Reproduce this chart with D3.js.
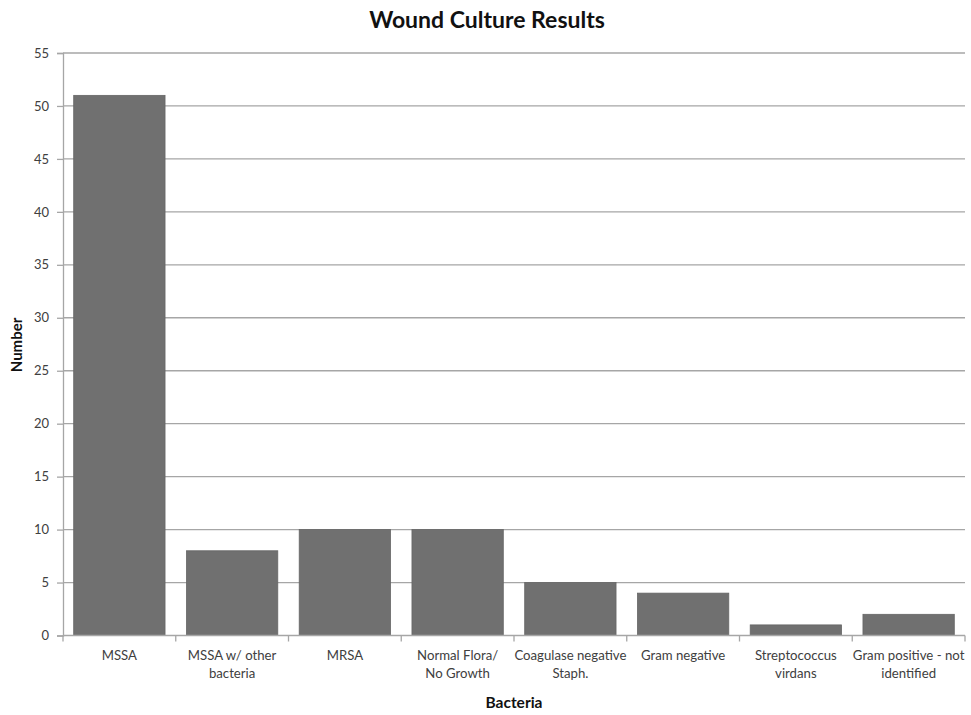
<!DOCTYPE html>
<html><head><meta charset="utf-8">
<script src="https://cdn.jsdelivr.net/npm/d3@7"></script>
<style>body{margin:0;background:#fff;} svg{display:block;font-family:Lato,"Open Sans",sans-serif;}</style>
</head><body>
<svg id="c" width="971" height="715"></svg>
<script>
const categories = [["MSSA"],["MSSA w/ other","bacteria"],["MRSA"],["Normal Flora/","No Growth"],["Coagulase negative","Staph."],["Gram negative"],["Streptococcus","virdans"],["Gram positive - not","identified"]];
const values = [51, 8, 10, 10, 5, 4, 1, 2];
const yTicks = [0,5,10,15,20,25,30,35,40,45,50,55];
const title = "Wound Culture Results";
const xTitle = "Bacteria";
const yTitle = "Number";

const svg = d3.select("#c");
const m = {l:63, r:6, t:53, b:79.5};
const W = 971, H = 715;
const x = d3.scaleBand().domain(d3.range(categories.length)).range([m.l, W-m.r]).paddingInner(0.19).paddingOuter(0.095);
const y = d3.scaleLinear().domain([0,55]).range([H-m.b, m.t]);

// gridlines
svg.append("g").selectAll("line").data(yTicks.filter(d=>d>0)).join("line")
  .attr("x1", m.l).attr("x2", W-m.r).attr("y1", d=>y(d)).attr("y2", d=>y(d))
  .attr("stroke","#a6a6a6").attr("stroke-width",1.3);

// bars
svg.append("g").selectAll("rect").data(values).join("rect")
  .attr("x",(d,i)=>x(i)).attr("width",x.bandwidth())
  .attr("y",d=>y(d)).attr("height",d=>y(0)-y(d))
  .attr("fill","#707070").attr("stroke","#666").attr("stroke-width",0.8);

// y axis
const ya = svg.append("g").attr("transform",`translate(${m.l},0)`)
  .call(d3.axisLeft(y).tickValues(yTicks).tickSize(6).tickPadding(8));
ya.select(".domain").attr("stroke","#a6a6a6").attr("stroke-width",1.3);
ya.selectAll(".tick line").attr("stroke","#a6a6a6").attr("stroke-width",1.3);
ya.selectAll(".tick text").attr("font-size",13).attr("fill","#404040").attr("font-family","Lato,'Open Sans',sans-serif");

// x axis line and ticks at band boundaries
const bounds = d3.range(categories.length+1).map(i=> m.l + i*x.step());
svg.append("line").attr("x1",m.l).attr("x2",W-m.r).attr("y1",y(0)).attr("y2",y(0)).attr("stroke","#a6a6a6").attr("stroke-width",1.3);
svg.append("g").selectAll("line").data(bounds).join("line")
  .attr("x1",d=>d).attr("x2",d=>d).attr("y1",y(0)).attr("y2",y(0)+6)
  .attr("stroke","#a6a6a6").attr("stroke-width",1.3);

// x labels
const xl = svg.append("g").selectAll("text").data(categories).join("text")
  .attr("text-anchor","middle").attr("font-size",13.2).attr("fill","#404040")
  .attr("transform",(d,i)=>`translate(${x(i)+x.bandwidth()/2},${y(0)+24})`);
xl.selectAll("tspan").data(d=>d).join("tspan").attr("x",0).attr("dy",(d,i)=>i===0?0:18).text(d=>d);

// titles
svg.append("text").attr("x",487).attr("y",28).attr("text-anchor","middle").attr("font-size",23).attr("font-weight","bold").attr("fill","#111").text(title);
svg.append("text").attr("x",514).attr("y",708).attr("text-anchor","middle").attr("font-size",15.5).attr("font-weight","bold").attr("fill","#111").text(xTitle);
svg.append("text").attr("transform","translate(22,345) rotate(-90)").attr("text-anchor","middle").attr("font-size",15).attr("font-weight","bold").attr("fill","#111").text(yTitle);
</script>
</body></html>
